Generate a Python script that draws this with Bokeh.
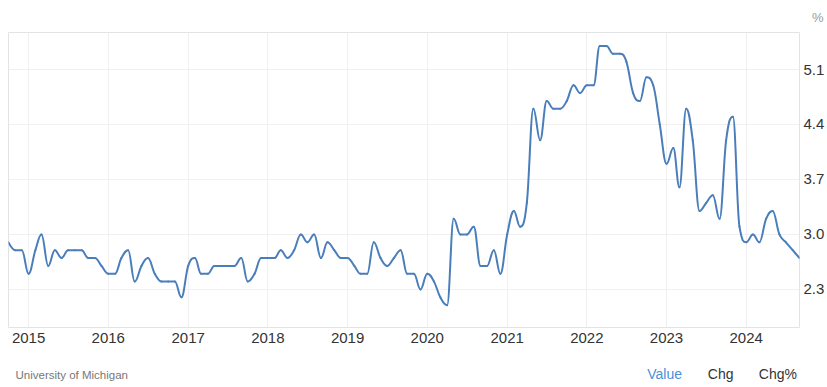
import numpy as np
import pandas as pd
from bokeh.plotting import figure
from bokeh.layouts import column
from bokeh.models import (LinearAxis, FixedTicker, DatetimeTickFormatter, Range1d,
                          NumeralTickFormatter, Label)
from bokeh.embed import file_html
from bokeh.resources import INLINE

# ---- data: University of Michigan expected inflation (%), monthly Oct 2014 - Sep 2024
start_month = "2014-10-01"
v2014 = [2.9, 2.8, 2.8]
v2015 = [2.5, 2.8, 3.0, 2.6, 2.8, 2.7, 2.8, 2.8, 2.8, 2.7, 2.7, 2.6]
v2016 = [2.5, 2.5, 2.7, 2.8, 2.4, 2.6, 2.7, 2.5, 2.4, 2.4, 2.4, 2.2]
v2017 = [2.6, 2.7, 2.5, 2.5, 2.6, 2.6, 2.6, 2.6, 2.7, 2.4, 2.5, 2.7]
v2018 = [2.7, 2.7, 2.8, 2.7, 2.8, 3.0, 2.9, 3.0, 2.7, 2.9, 2.8, 2.7]
v2019 = [2.7, 2.6, 2.5, 2.5, 2.9, 2.7, 2.6, 2.7, 2.8, 2.5, 2.5, 2.3]
v2020 = [2.5, 2.4, 2.2, 2.1, 3.2, 3.0, 3.0, 3.1, 2.6, 2.6, 2.8, 2.5]
v2021 = [3.0, 3.3, 3.1, 3.4, 4.6, 4.2, 4.7, 4.6, 4.6, 4.7, 4.9, 4.8]
v2022 = [4.9, 4.9, 5.4, 5.4, 5.3, 5.3, 5.2, 4.8, 4.7, 5.0, 4.9, 4.4]
v2023 = [3.9, 4.1, 3.6, 4.6, 4.2, 3.3, 3.4, 3.5, 3.2, 4.2, 4.5, 3.1]
v2024 = [2.9, 3.0, 2.9, 3.2, 3.3, 3.0, 2.9, 2.8, 2.7]
tick_years = [2015, 2016, 2017, 2018, 2019, 2020, 2021, 2022, 2023, 2024]
y_ticks = [2.3, 3.0, 3.7, 4.4, 5.1]

values = v2014 + v2015 + v2016 + v2017 + v2018 + v2019 + v2020 + v2021 + v2022 + v2023 + v2024
dates = pd.date_range(start_month, periods=len(values), freq="MS")
xs = dates.values.astype("datetime64[ms]").astype("int64").astype(float)
ys = np.array(values, dtype=float)
n = len(ys)

# spline control points (Highcharts-style smoothing) computed from the data
s, d = 1.5, 2.5
lcx, lcy = xs.copy(), ys.copy()
rcx, rcy = xs.copy(), ys.copy()
for i in range(1, n - 1):
    px, py = xs[i], ys[i]
    lx, ly = xs[i - 1], ys[i - 1]
    nx, ny = xs[i + 1], ys[i + 1]
    a_x, a_y = (s * px + lx) / d, (s * py + ly) / d
    b_x, b_y = (s * px + nx) / d, (s * py + ny) / d
    if b_x != a_x:
        corr = ((b_y - a_y) * (b_x - px)) / (b_x - a_x) + py - b_y
        a_y += corr
        b_y += corr
    if a_y > max(ly, py):
        a_y = max(ly, py); b_y = 2 * py - a_y
    elif a_y < min(ly, py):
        a_y = min(ly, py); b_y = 2 * py - a_y
    if b_y > max(py, ny):
        b_y = max(py, ny); a_y = 2 * py - b_y
    elif b_y < min(py, ny):
        b_y = min(py, ny); a_y = 2 * py - b_y
    lcx[i], lcy[i], rcx[i], rcy[i] = a_x, a_y, b_x, b_y

FONT = "Liberation Sans"
W = 827

# main chart
p = figure(width=W, height=352, output_backend="svg", toolbar_location=None,
           x_axis_type="datetime", x_axis_location="below", y_axis_location=None,
           min_border_left=8, min_border_top=32, min_border_right=25, min_border_bottom=25,
           x_range=Range1d(xs[0], xs[-1]), y_range=Range1d(1.816, 5.571))
p.background_fill_color = "white"
p.border_fill_color = "white"
p.outline_line_color = "#e3e3e3"
p.outline_line_width = 1

# unit shown above the value axis
p.title.text = "%"
p.title.align = "right"
p.title.offset = -24
p.title.standoff = 15
p.title.text_font = FONT
p.title.text_font_size = "13px"
p.title.text_font_style = "normal"
p.title.text_color = "#999999"

p.bezier(x0=xs[:-1], y0=ys[:-1], x1=xs[1:], y1=ys[1:],
         cx0=rcx[:-1], cy0=rcy[:-1], cx1=lcx[1:], cy1=lcy[1:],
         line_color="#4a7ebb", line_width=2, line_cap="round")

tick_ms = [pd.Timestamp(f"{yr}-01-01").value / 1e6 for yr in tick_years]
xa = p.xaxis[0]
xa.ticker = FixedTicker(ticks=tick_ms)
fmt = "%Y"
xa.formatter = DatetimeTickFormatter(years=fmt, months=fmt, days=fmt, hours=fmt,
                                     minutes=fmt, seconds=fmt, milliseconds=fmt,
                                     microseconds=fmt, hourmin=fmt, minsec=fmt)
xa.axis_line_color = None
xa.major_tick_line_color = None
xa.minor_tick_line_color = None
xa.major_tick_out = 0
xa.major_tick_in = 0
xa.major_label_standoff = 5
xa.major_label_text_font = FONT
xa.major_label_text_font_size = "15px"
xa.major_label_text_color = "#333333"

ya = LinearAxis(ticker=FixedTicker(ticks=y_ticks), formatter=NumeralTickFormatter(format="0.0"))
ya.axis_line_color = None
ya.major_tick_line_color = None
ya.minor_tick_line_color = None
ya.major_tick_out = 0
ya.major_tick_in = 0
ya.major_label_standoff = 4
ya.major_label_text_font = FONT
ya.major_label_text_font_size = "15px"
ya.major_label_text_color = "#333333"
p.add_layout(ya, "right")

p.xgrid.ticker = FixedTicker(ticks=tick_ms)
p.xgrid.grid_line_color = "#f0f0f0"
for g in p.ygrid:
    g.ticker = FixedTicker(ticks=y_ticks)
    g.grid_line_color = "#f0f0f0"

# bottom strip with source and tabs (its frame is aligned with the chart frame)
bot = figure(width=W, height=34, output_backend="svg", toolbar_location=None,
             x_axis_location=None, y_axis_location=None, min_border=0,
             x_range=Range1d(0, 1), y_range=Range1d(0, 1))
bot.outline_line_color = None
bot.xgrid.visible = False
bot.ygrid.visible = False
bot.background_fill_color = "white"
bot.border_fill_color = "white"
bot.add_layout(Label(x=7, y=12, x_units="screen", y_units="screen", text="University of Michigan",
                     text_font=FONT, text_font_size="11.5px", text_color="#777777",
                     text_align="left", text_baseline="middle"))
for txt, xx, col in [("Value", 638.7, "#4a90d9"), ("Chg", 699.3, "#333333"), ("Chg%", 750.3, "#333333")]:
    bot.add_layout(Label(x=xx, y=12.5, x_units="screen", y_units="screen", text=txt,
                         text_font=FONT, text_font_size="14px", text_color=col,
                         text_align="left", text_baseline="middle"))

layout = column(p, bot, spacing=0)
open("out.html", "w").write(file_html(layout, INLINE))
